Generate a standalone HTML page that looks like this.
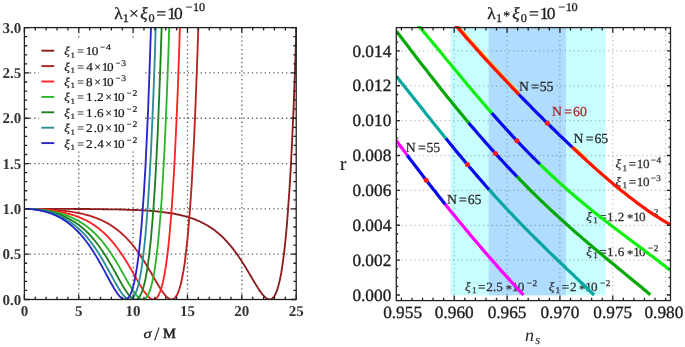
<!DOCTYPE html>
<html><head><meta charset="utf-8"><title>plot</title>
<style>html,body{margin:0;padding:0;background:#fff;font-family:"Liberation Serif",serif;}svg{display:block;will-change:transform}</style></head>
<body>
<svg width="685" height="347" viewBox="0 0 685 347" font-family="Liberation Serif, serif" text-rendering="geometricPrecision">
<rect width="685" height="347" fill="#fff"/>
<defs><clipPath id="cl"><rect x="24.40" y="27.60" width="272.50" height="271.90"/></clipPath>
<clipPath id="cr"><rect x="396.30" y="26.00" width="274.20" height="274.60"/></clipPath></defs>
<g stroke="#666" stroke-width="1.35" stroke-dasharray="1.35 2.92" fill="none">
<path d="M78.76 27.60 V299.50" stroke-dashoffset="4.2"/>
<path d="M133.12 27.60 V299.50" stroke-dashoffset="4.2"/>
<path d="M187.48 27.60 V299.50" stroke-dashoffset="4.2"/>
<path d="M241.84 27.60 V299.50" stroke-dashoffset="4.2"/>
<path d="M24.40 254.18 H296.20" stroke-dashoffset="3.12"/>
<path d="M24.40 208.87 H296.20" stroke-dashoffset="3.12"/>
<path d="M24.40 163.55 H296.20" stroke-dashoffset="3.12"/>
<path d="M24.40 118.23 H296.20" stroke-dashoffset="3.12"/>
<path d="M24.40 72.92 H296.20" stroke-dashoffset="3.12"/>
</g>
<g clip-path="url(#cl)" fill="none" stroke-width="1.85" stroke-linejoin="round">
<path d="M24.4 208.9L25.8 208.9L27.1 208.9L28.5 208.9L29.8 208.9L31.2 208.9L32.6 208.9L33.9 208.9L35.3 208.9L36.6 208.9L38.0 208.9L39.3 208.9L40.7 208.9L42.1 208.9L43.4 208.9L44.8 208.9L46.1 208.9L47.5 208.9L48.9 208.9L50.2 208.9L51.6 208.9L52.9 208.9L54.3 208.9L55.7 208.9L57.0 208.9L58.4 208.9L59.7 208.9L61.1 208.9L62.5 208.9L63.8 208.9L65.2 208.9L66.5 208.9L67.9 208.9L69.2 208.9L70.6 208.9L72.0 208.9L73.3 208.9L74.7 209.0L76.0 209.0L77.4 209.0L78.8 209.0L80.1 209.0L81.5 209.0L82.8 209.0L84.2 209.0L85.6 209.0L86.9 209.0L88.3 209.0L89.6 209.0L91.0 209.1L92.3 209.1L93.7 209.1L95.1 209.1L96.4 209.1L97.8 209.1L99.1 209.1L100.5 209.1L101.9 209.2L103.2 209.2L104.6 209.2L105.9 209.2L107.3 209.2L108.7 209.3L110.0 209.3L111.4 209.3L112.7 209.3L114.1 209.4L115.5 209.4L116.8 209.4L118.2 209.4L119.5 209.5L120.9 209.5L122.2 209.5L123.6 209.6L125.0 209.6L126.3 209.7L127.7 209.7L129.0 209.8L130.4 209.8L131.8 209.8L133.1 209.9L134.5 210.0L135.8 210.0L137.2 210.1L138.6 210.1L139.9 210.2L141.3 210.3L142.6 210.4L144.0 210.4L145.4 210.5L146.7 210.6L148.1 210.7L149.4 210.8L150.8 210.9L152.1 211.0L153.5 211.1L154.9 211.2L156.2 211.4L157.6 211.5L158.9 211.6L160.3 211.8L161.7 211.9L163.0 212.1L164.4 212.3L165.7 212.5L167.1 212.6L168.5 212.8L169.8 213.0L171.2 213.3L172.5 213.5L173.9 213.7L175.2 214.0L176.6 214.3L178.0 214.5L179.3 214.8L180.7 215.1L182.0 215.5L183.4 215.8L184.8 216.2L186.1 216.5L187.5 216.9L188.8 217.3L190.2 217.8L191.6 218.2L192.9 218.7L194.3 219.2L195.6 219.7L197.0 220.3L198.4 220.9L199.7 221.5L201.1 222.1L202.4 222.8L203.8 223.5L205.1 224.2L206.5 225.0L207.9 225.8L209.2 226.6L210.6 227.5L211.9 228.4L213.3 229.3L214.7 230.3L216.0 231.4L217.4 232.5L218.7 233.6L220.1 234.8L221.5 236.1L222.8 237.3L224.2 238.7L225.5 240.1L226.9 241.5L228.2 243.1L229.6 244.6L231.0 246.3L232.3 247.9L233.7 249.7L235.0 251.5L236.4 253.4L237.8 255.3L239.1 257.3L240.5 259.3L241.8 261.4L243.2 263.5L244.6 265.7L245.9 267.9L247.3 270.2L248.6 272.4L250.0 274.7L251.4 277.0L252.7 279.4L254.1 281.7L255.4 283.9L256.8 286.1L258.1 288.3L259.5 290.4L260.9 292.3L262.2 294.1L263.6 295.7L264.9 297.1L266.3 298.2L267.7 299.0L269.0 299.4L270.4 299.4L271.7 298.9L273.1 297.8L274.5 296.0L275.8 293.4L277.2 289.9L278.5 285.4L279.9 279.7L281.3 272.7L282.6 264.1L284.0 253.8L285.3 241.6L286.7 227.1L288.0 210.2L289.4 190.4L290.8 167.5L292.1 141.0L293.5 110.5L294.8 75.5L296.2 35.4L297.6 -10.2" stroke="#8a1c1c"/>
<path d="M24.4 208.9L25.8 208.9L27.1 208.9L28.5 208.9L29.8 208.9L31.2 208.9L32.6 208.9L33.9 209.0L35.3 209.0L36.6 209.0L38.0 209.1L39.3 209.1L40.7 209.1L42.1 209.2L43.4 209.3L44.8 209.3L46.1 209.4L47.5 209.4L48.9 209.5L50.2 209.6L51.6 209.7L52.9 209.8L54.3 209.9L55.7 210.0L57.0 210.1L58.4 210.2L59.7 210.3L61.1 210.5L62.5 210.6L63.8 210.8L65.2 210.9L66.5 211.1L67.9 211.3L69.2 211.4L70.6 211.6L72.0 211.8L73.3 212.1L74.7 212.3L76.0 212.5L77.4 212.8L78.8 213.0L80.1 213.3L81.5 213.6L82.8 213.9L84.2 214.3L85.6 214.6L86.9 215.0L88.3 215.3L89.6 215.7L91.0 216.2L92.3 216.6L93.7 217.1L95.1 217.5L96.4 218.1L97.8 218.6L99.1 219.2L100.5 219.7L101.9 220.4L103.2 221.0L104.6 221.7L105.9 222.4L107.3 223.1L108.7 223.9L110.0 224.7L111.4 225.6L112.7 226.5L114.1 227.4L115.5 228.4L116.8 229.4L118.2 230.5L119.5 231.6L120.9 232.8L122.2 234.0L123.6 235.2L125.0 236.6L126.3 237.9L127.7 239.4L129.0 240.9L130.4 242.4L131.8 244.0L133.1 245.7L134.5 247.4L135.8 249.2L137.2 251.0L138.6 252.9L139.9 254.9L141.3 256.9L142.6 258.9L144.0 261.1L145.4 263.2L146.7 265.5L148.1 267.7L149.4 270.0L150.8 272.3L152.1 274.7L153.5 277.0L154.9 279.4L156.2 281.7L157.6 284.0L158.9 286.2L160.3 288.4L161.7 290.5L163.0 292.4L164.4 294.2L165.7 295.8L167.1 297.2L168.5 298.3L169.8 299.1L171.2 299.5L172.5 299.4L173.9 298.8L175.2 297.6L176.6 295.6L178.0 292.9L179.3 289.2L180.7 284.5L182.0 278.5L183.4 271.2L184.8 262.3L186.1 251.5L187.5 238.8L188.8 223.8L190.2 206.2L191.6 185.7L192.9 162.0L194.3 134.5L195.6 103.0L197.0 66.8L198.4 25.4L199.7 -21.8" stroke="#b52222"/>
<path d="M24.4 208.9L25.8 208.9L27.1 208.9L28.5 208.9L29.8 208.9L31.2 209.0L32.6 209.0L33.9 209.1L35.3 209.1L36.6 209.2L38.0 209.3L39.3 209.3L40.7 209.4L42.1 209.5L43.4 209.6L44.8 209.8L46.1 209.9L47.5 210.0L48.9 210.2L50.2 210.3L51.6 210.5L52.9 210.7L54.3 210.9L55.7 211.1L57.0 211.3L58.4 211.5L59.7 211.8L61.1 212.1L62.5 212.3L63.8 212.6L65.2 212.9L66.5 213.3L67.9 213.6L69.2 214.0L70.6 214.4L72.0 214.8L73.3 215.2L74.7 215.6L76.0 216.1L77.4 216.6L78.8 217.1L80.1 217.7L81.5 218.2L82.8 218.9L84.2 219.5L85.6 220.1L86.9 220.8L88.3 221.6L89.6 222.3L91.0 223.1L92.3 224.0L93.7 224.9L95.1 225.8L96.4 226.8L97.8 227.8L99.1 228.8L100.5 229.9L101.9 231.1L103.2 232.3L104.6 233.5L105.9 234.8L107.3 236.2L108.7 237.6L110.0 239.1L111.4 240.6L112.7 242.2L114.1 243.9L115.5 245.6L116.8 247.3L118.2 249.2L119.5 251.1L120.9 253.0L122.2 255.0L123.6 257.1L125.0 259.2L126.3 261.4L127.7 263.6L129.0 265.9L130.4 268.2L131.8 270.6L133.1 272.9L134.5 275.3L135.8 277.7L137.2 280.1L138.6 282.4L139.9 284.7L141.3 287.0L142.6 289.2L144.0 291.2L145.4 293.1L146.7 294.9L148.1 296.4L149.4 297.7L150.8 298.7L152.1 299.3L153.5 299.5L154.9 299.2L156.2 298.3L157.6 296.8L158.9 294.5L160.3 291.3L161.7 287.1L163.0 281.8L164.4 275.2L165.7 267.1L167.1 257.2L168.5 245.5L169.8 231.6L171.2 215.3L172.5 196.2L173.9 174.0L175.2 148.3L176.6 118.7L178.0 84.7L179.3 45.8L180.7 1.3L182.0 -49.4" stroke="#ff2222"/>
<path d="M24.4 208.9L25.8 208.9L27.1 208.9L28.5 208.9L29.8 209.0L31.2 209.0L32.6 209.1L33.9 209.1L35.3 209.2L36.6 209.3L38.0 209.4L39.3 209.6L40.7 209.7L42.1 209.9L43.4 210.0L44.8 210.2L46.1 210.4L47.5 210.6L48.9 210.8L50.2 211.1L51.6 211.3L52.9 211.6L54.3 211.9L55.7 212.2L57.0 212.5L58.4 212.9L59.7 213.2L61.1 213.6L62.5 214.0L63.8 214.5L65.2 214.9L66.5 215.4L67.9 215.9L69.2 216.5L70.6 217.0L72.0 217.6L73.3 218.3L74.7 218.9L76.0 219.6L77.4 220.3L78.8 221.1L80.1 221.9L81.5 222.7L82.8 223.6L84.2 224.5L85.6 225.5L86.9 226.5L88.3 227.6L89.6 228.7L91.0 229.8L92.3 231.0L93.7 232.3L95.1 233.6L96.4 235.0L97.8 236.4L99.1 237.9L100.5 239.4L101.9 241.0L103.2 242.7L104.6 244.4L105.9 246.2L107.3 248.0L108.7 249.9L110.0 251.9L111.4 253.9L112.7 256.0L114.1 258.2L115.5 260.4L116.8 262.6L118.2 264.9L119.5 267.2L120.9 269.6L122.2 272.0L123.6 274.4L125.0 276.9L126.3 279.3L127.7 281.7L129.0 284.0L130.4 286.3L131.8 288.5L133.1 290.7L134.5 292.6L135.8 294.5L137.2 296.1L138.6 297.4L139.9 298.5L141.3 299.2L142.6 299.5L144.0 299.3L145.4 298.5L146.7 297.1L148.1 295.0L149.4 291.9L150.8 287.9L152.1 282.8L153.5 276.3L154.9 268.4L156.2 258.8L157.6 247.3L158.9 233.7L160.3 217.6L161.7 198.8L163.0 177.0L164.4 151.7L165.7 122.5L167.1 88.9L168.5 50.4L169.8 6.5L171.2 -43.7" stroke="#2bb52b"/>
<path d="M24.4 208.9L25.8 208.9L27.1 208.9L28.5 208.9L29.8 209.0L31.2 209.1L32.6 209.1L33.9 209.2L35.3 209.4L36.6 209.5L38.0 209.6L39.3 209.8L40.7 210.0L42.1 210.2L43.4 210.4L44.8 210.6L46.1 210.9L47.5 211.2L48.9 211.5L50.2 211.8L51.6 212.1L52.9 212.5L54.3 212.9L55.7 213.3L57.0 213.7L58.4 214.2L59.7 214.7L61.1 215.2L62.5 215.7L63.8 216.3L65.2 216.9L66.5 217.6L67.9 218.2L69.2 218.9L70.6 219.7L72.0 220.5L73.3 221.3L74.7 222.1L76.0 223.0L77.4 224.0L78.8 225.0L80.1 226.0L81.5 227.1L82.8 228.3L84.2 229.4L85.6 230.7L86.9 232.0L88.3 233.3L89.6 234.7L91.0 236.2L92.3 237.7L93.7 239.3L95.1 241.0L96.4 242.7L97.8 244.5L99.1 246.3L100.5 248.2L101.9 250.2L103.2 252.2L104.6 254.3L105.9 256.4L107.3 258.6L108.7 260.9L110.0 263.2L111.4 265.5L112.7 267.9L114.1 270.4L115.5 272.8L116.8 275.3L118.2 277.7L119.5 280.2L120.9 282.6L122.2 284.9L123.6 287.2L125.0 289.4L126.3 291.5L127.7 293.5L129.0 295.2L130.4 296.7L131.8 298.0L133.1 298.9L134.5 299.4L135.8 299.5L137.2 299.0L138.6 297.9L139.9 296.1L141.3 293.5L142.6 290.0L144.0 285.3L145.4 279.5L146.7 272.2L148.1 263.4L149.4 252.7L150.8 240.1L152.1 225.1L153.5 207.5L154.9 186.9L156.2 163.1L157.6 135.5L158.9 103.7L160.3 67.3L161.7 25.6L163.0 -22.0" stroke="#1f7f1f"/>
<path d="M24.4 208.9L25.8 208.9L27.1 208.9L28.5 209.0L29.8 209.0L31.2 209.1L32.6 209.2L33.9 209.3L35.3 209.5L36.6 209.6L38.0 209.8L39.3 210.0L40.7 210.3L42.1 210.5L43.4 210.8L44.8 211.1L46.1 211.4L47.5 211.7L48.9 212.1L50.2 212.5L51.6 212.9L52.9 213.4L54.3 213.9L55.7 214.4L57.0 214.9L58.4 215.5L59.7 216.1L61.1 216.7L62.5 217.4L63.8 218.1L65.2 218.9L66.5 219.7L67.9 220.5L69.2 221.4L70.6 222.3L72.0 223.2L73.3 224.2L74.7 225.3L76.0 226.4L77.4 227.6L78.8 228.8L80.1 230.0L81.5 231.4L82.8 232.7L84.2 234.2L85.6 235.7L86.9 237.2L88.3 238.8L89.6 240.5L91.0 242.3L92.3 244.1L93.7 246.0L95.1 247.9L96.4 249.9L97.8 252.0L99.1 254.1L100.5 256.3L101.9 258.5L103.2 260.8L104.6 263.2L105.9 265.6L107.3 268.0L108.7 270.5L110.0 273.0L111.4 275.5L112.7 277.9L114.1 280.4L115.5 282.9L116.8 285.2L118.2 287.6L119.5 289.8L120.9 291.9L122.2 293.8L123.6 295.5L125.0 297.0L126.3 298.2L127.7 299.0L129.0 299.5L130.4 299.4L131.8 298.8L133.1 297.6L134.5 295.6L135.8 292.7L137.2 288.9L138.6 283.9L139.9 277.7L141.3 270.0L142.6 260.6L144.0 249.3L145.4 236.0L146.7 220.2L148.1 201.7L149.4 180.1L150.8 155.1L152.1 126.2L153.5 92.9L154.9 54.8L156.2 11.2L157.6 -38.6" stroke="#2a8c94"/>
<path d="M24.4 208.9L25.8 208.9L27.1 208.9L28.5 209.0L29.8 209.0L31.2 209.2L32.6 209.3L33.9 209.4L35.3 209.6L36.6 209.8L38.0 210.0L39.3 210.3L40.7 210.5L42.1 210.8L43.4 211.2L44.8 211.5L46.1 211.9L47.5 212.3L48.9 212.8L50.2 213.2L51.6 213.7L52.9 214.3L54.3 214.8L55.7 215.5L57.0 216.1L58.4 216.8L59.7 217.5L61.1 218.3L62.5 219.1L63.8 219.9L65.2 220.8L66.5 221.7L67.9 222.7L69.2 223.7L70.6 224.8L72.0 226.0L73.3 227.1L74.7 228.4L76.0 229.7L77.4 231.0L78.8 232.5L80.1 233.9L81.5 235.5L82.8 237.1L84.2 238.7L85.6 240.5L86.9 242.3L88.3 244.1L89.6 246.0L91.0 248.0L92.3 250.1L93.7 252.2L95.1 254.4L96.4 256.6L97.8 258.9L99.1 261.3L100.5 263.7L101.9 266.1L103.2 268.6L104.6 271.1L105.9 273.6L107.3 276.2L108.7 278.7L110.0 281.2L111.4 283.7L112.7 286.0L114.1 288.4L115.5 290.6L116.8 292.6L118.2 294.5L119.5 296.1L120.9 297.5L122.2 298.6L123.6 299.3L125.0 299.5L126.3 299.2L127.7 298.3L129.0 296.8L130.4 294.4L131.8 291.1L133.1 286.7L134.5 281.2L135.8 274.2L137.2 265.7L138.6 255.4L139.9 243.1L141.3 228.5L142.6 211.3L144.0 191.3L145.4 167.9L146.7 140.9L148.1 109.8L149.4 74.0L150.8 33.0L152.1 -13.9" stroke="#2626c8"/>
</g>
<rect x="39" y="38" width="104" height="113" fill="#fff"/>
<path d="M41.4 50.70 H54.2" stroke="#8a1c1c" stroke-width="1.9"/>
<text transform="translate(64.15 55.20) scale(1.100 1)" font-size="12.00" fill="#181818" font-style="italic" stroke="#181818" stroke-width="0.20">ξ</text>
<text transform="translate(70.51 57.60) scale(1.100 1)" font-size="8.30" fill="#181818" stroke="#181818" stroke-width="0.20">1</text>
<text transform="translate(77.32 55.20) scale(0.980 1)" font-size="12.00" fill="#181818" stroke="#181818" stroke-width="0.20">=</text>
<text transform="translate(85.75 55.20) scale(1.100 1)" font-size="12.00" fill="#181818" stroke="#181818" stroke-width="0.20">1</text>
<text transform="translate(91.70 55.20) scale(1.100 1)" font-size="12.00" fill="#181818" stroke="#181818" stroke-width="0.20">0</text>
<text transform="translate(100.19 50.20) scale(0.980 1)" font-size="8.50" fill="#181818" stroke="#181818" stroke-width="0.20">−</text>
<text transform="translate(106.02 50.20) scale(1.100 1)" font-size="8.80" fill="#181818" stroke="#181818" stroke-width="0.20">4</text>
<path d="M41.4 66.10 H54.2" stroke="#b52222" stroke-width="1.9"/>
<text transform="translate(64.15 70.60) scale(1.100 1)" font-size="12.00" fill="#181818" font-style="italic" stroke="#181818" stroke-width="0.20">ξ</text>
<text transform="translate(70.51 73.00) scale(1.100 1)" font-size="8.30" fill="#181818" stroke="#181818" stroke-width="0.20">1</text>
<text transform="translate(77.32 70.60) scale(0.980 1)" font-size="12.00" fill="#181818" stroke="#181818" stroke-width="0.20">=</text>
<text transform="translate(86.35 70.60) scale(1.100 1)" font-size="12.00" fill="#181818" stroke="#181818" stroke-width="0.20">4</text>
<text transform="translate(94.27 70.60) scale(0.980 1)" font-size="12.00" fill="#181818" stroke="#181818" stroke-width="0.20">×</text>
<text transform="translate(101.65 70.60) scale(1.100 1)" font-size="12.00" fill="#181818" stroke="#181818" stroke-width="0.20">1</text>
<text transform="translate(106.90 70.60) scale(1.100 1)" font-size="12.00" fill="#181818" stroke="#181818" stroke-width="0.20">0</text>
<text transform="translate(115.79 65.60) scale(0.980 1)" font-size="8.50" fill="#181818" stroke="#181818" stroke-width="0.20">−</text>
<text transform="translate(121.35 65.60) scale(1.100 1)" font-size="8.80" fill="#181818" stroke="#181818" stroke-width="0.20">3</text>
<path d="M41.4 81.50 H54.2" stroke="#ff2222" stroke-width="1.9"/>
<text transform="translate(64.15 86.00) scale(1.100 1)" font-size="12.00" fill="#181818" font-style="italic" stroke="#181818" stroke-width="0.20">ξ</text>
<text transform="translate(70.51 88.40) scale(1.100 1)" font-size="8.30" fill="#181818" stroke="#181818" stroke-width="0.20">1</text>
<text transform="translate(77.32 86.00) scale(0.980 1)" font-size="12.00" fill="#181818" stroke="#181818" stroke-width="0.20">=</text>
<text transform="translate(86.10 86.00) scale(1.100 1)" font-size="12.00" fill="#181818" stroke="#181818" stroke-width="0.20">8</text>
<text transform="translate(94.27 86.00) scale(0.980 1)" font-size="12.00" fill="#181818" stroke="#181818" stroke-width="0.20">×</text>
<text transform="translate(101.65 86.00) scale(1.100 1)" font-size="12.00" fill="#181818" stroke="#181818" stroke-width="0.20">1</text>
<text transform="translate(106.90 86.00) scale(1.100 1)" font-size="12.00" fill="#181818" stroke="#181818" stroke-width="0.20">0</text>
<text transform="translate(115.79 81.00) scale(0.980 1)" font-size="8.50" fill="#181818" stroke="#181818" stroke-width="0.20">−</text>
<text transform="translate(121.35 81.00) scale(1.100 1)" font-size="8.80" fill="#181818" stroke="#181818" stroke-width="0.20">3</text>
<path d="M41.4 96.90 H54.2" stroke="#2bb52b" stroke-width="1.9"/>
<text transform="translate(64.15 101.40) scale(1.100 1)" font-size="12.00" fill="#181818" font-style="italic" stroke="#181818" stroke-width="0.20">ξ</text>
<text transform="translate(70.51 103.80) scale(1.100 1)" font-size="8.30" fill="#181818" stroke="#181818" stroke-width="0.20">1</text>
<text transform="translate(77.32 101.40) scale(0.980 1)" font-size="12.00" fill="#181818" stroke="#181818" stroke-width="0.20">=</text>
<text transform="translate(86.05 101.40) scale(1.100 1)" font-size="12.00" fill="#181818" stroke="#181818" stroke-width="0.20">1</text>
<text transform="translate(93.64 101.40) scale(1.100 1)" font-size="12.00" fill="#181818" stroke="#181818" stroke-width="0.20">.</text>
<text transform="translate(97.03 101.40) scale(1.100 1)" font-size="12.00" fill="#181818" stroke="#181818" stroke-width="0.20">2</text>
<text transform="translate(105.27 101.40) scale(0.980 1)" font-size="12.00" fill="#181818" stroke="#181818" stroke-width="0.20">×</text>
<text transform="translate(112.65 101.40) scale(1.100 1)" font-size="12.00" fill="#181818" stroke="#181818" stroke-width="0.20">1</text>
<text transform="translate(117.90 101.40) scale(1.100 1)" font-size="12.00" fill="#181818" stroke="#181818" stroke-width="0.20">0</text>
<text transform="translate(126.79 96.40) scale(0.980 1)" font-size="8.50" fill="#181818" stroke="#181818" stroke-width="0.20">−</text>
<text transform="translate(132.38 96.40) scale(1.100 1)" font-size="8.80" fill="#181818" stroke="#181818" stroke-width="0.20">2</text>
<path d="M41.4 112.30 H54.2" stroke="#1f7f1f" stroke-width="1.9"/>
<text transform="translate(64.15 116.80) scale(1.100 1)" font-size="12.00" fill="#181818" font-style="italic" stroke="#181818" stroke-width="0.20">ξ</text>
<text transform="translate(70.51 119.20) scale(1.100 1)" font-size="8.30" fill="#181818" stroke="#181818" stroke-width="0.20">1</text>
<text transform="translate(77.32 116.80) scale(0.980 1)" font-size="12.00" fill="#181818" stroke="#181818" stroke-width="0.20">=</text>
<text transform="translate(86.05 116.80) scale(1.100 1)" font-size="12.00" fill="#181818" stroke="#181818" stroke-width="0.20">1</text>
<text transform="translate(93.64 116.80) scale(1.100 1)" font-size="12.00" fill="#181818" stroke="#181818" stroke-width="0.20">.</text>
<text transform="translate(97.05 116.80) scale(1.100 1)" font-size="12.00" fill="#181818" stroke="#181818" stroke-width="0.20">6</text>
<text transform="translate(105.27 116.80) scale(0.980 1)" font-size="12.00" fill="#181818" stroke="#181818" stroke-width="0.20">×</text>
<text transform="translate(112.65 116.80) scale(1.100 1)" font-size="12.00" fill="#181818" stroke="#181818" stroke-width="0.20">1</text>
<text transform="translate(117.90 116.80) scale(1.100 1)" font-size="12.00" fill="#181818" stroke="#181818" stroke-width="0.20">0</text>
<text transform="translate(126.79 111.80) scale(0.980 1)" font-size="8.50" fill="#181818" stroke="#181818" stroke-width="0.20">−</text>
<text transform="translate(132.38 111.80) scale(1.100 1)" font-size="8.80" fill="#181818" stroke="#181818" stroke-width="0.20">2</text>
<path d="M41.4 127.70 H54.2" stroke="#2a8c94" stroke-width="1.9"/>
<text transform="translate(64.15 132.20) scale(1.100 1)" font-size="12.00" fill="#181818" font-style="italic" stroke="#181818" stroke-width="0.20">ξ</text>
<text transform="translate(70.51 134.60) scale(1.100 1)" font-size="8.30" fill="#181818" stroke="#181818" stroke-width="0.20">1</text>
<text transform="translate(77.32 132.20) scale(0.980 1)" font-size="12.00" fill="#181818" stroke="#181818" stroke-width="0.20">=</text>
<text transform="translate(86.03 132.20) scale(1.100 1)" font-size="12.00" fill="#181818" stroke="#181818" stroke-width="0.20">2</text>
<text transform="translate(93.64 132.20) scale(1.100 1)" font-size="12.00" fill="#181818" stroke="#181818" stroke-width="0.20">.</text>
<text transform="translate(97.10 132.20) scale(1.100 1)" font-size="12.00" fill="#181818" stroke="#181818" stroke-width="0.20">0</text>
<text transform="translate(105.27 132.20) scale(0.980 1)" font-size="12.00" fill="#181818" stroke="#181818" stroke-width="0.20">×</text>
<text transform="translate(112.65 132.20) scale(1.100 1)" font-size="12.00" fill="#181818" stroke="#181818" stroke-width="0.20">1</text>
<text transform="translate(117.90 132.20) scale(1.100 1)" font-size="12.00" fill="#181818" stroke="#181818" stroke-width="0.20">0</text>
<text transform="translate(126.79 127.20) scale(0.980 1)" font-size="8.50" fill="#181818" stroke="#181818" stroke-width="0.20">−</text>
<text transform="translate(132.38 127.20) scale(1.100 1)" font-size="8.80" fill="#181818" stroke="#181818" stroke-width="0.20">2</text>
<path d="M41.4 143.10 H54.2" stroke="#2626c8" stroke-width="1.9"/>
<text transform="translate(64.15 147.60) scale(1.100 1)" font-size="12.00" fill="#181818" font-style="italic" stroke="#181818" stroke-width="0.20">ξ</text>
<text transform="translate(70.51 150.00) scale(1.100 1)" font-size="8.30" fill="#181818" stroke="#181818" stroke-width="0.20">1</text>
<text transform="translate(77.32 147.60) scale(0.980 1)" font-size="12.00" fill="#181818" stroke="#181818" stroke-width="0.20">=</text>
<text transform="translate(86.03 147.60) scale(1.100 1)" font-size="12.00" fill="#181818" stroke="#181818" stroke-width="0.20">2</text>
<text transform="translate(93.64 147.60) scale(1.100 1)" font-size="12.00" fill="#181818" stroke="#181818" stroke-width="0.20">.</text>
<text transform="translate(97.35 147.60) scale(1.100 1)" font-size="12.00" fill="#181818" stroke="#181818" stroke-width="0.20">4</text>
<text transform="translate(105.27 147.60) scale(0.980 1)" font-size="12.00" fill="#181818" stroke="#181818" stroke-width="0.20">×</text>
<text transform="translate(112.65 147.60) scale(1.100 1)" font-size="12.00" fill="#181818" stroke="#181818" stroke-width="0.20">1</text>
<text transform="translate(117.90 147.60) scale(1.100 1)" font-size="12.00" fill="#181818" stroke="#181818" stroke-width="0.20">0</text>
<text transform="translate(126.79 142.60) scale(0.980 1)" font-size="8.50" fill="#181818" stroke="#181818" stroke-width="0.20">−</text>
<text transform="translate(132.38 142.60) scale(1.100 1)" font-size="8.80" fill="#181818" stroke="#181818" stroke-width="0.20">2</text>
<g stroke="#222" stroke-width="1.3" fill="none">
<rect x="24.40" y="27.60" width="271.80" height="271.90"/>
<path d="M24.40 299.50v-5.00M24.40 27.60v5.00M35.27 299.50v-2.80M35.27 27.60v2.80M46.14 299.50v-2.80M46.14 27.60v2.80M57.02 299.50v-2.80M57.02 27.60v2.80M67.89 299.50v-2.80M67.89 27.60v2.80M78.76 299.50v-5.00M78.76 27.60v5.00M89.63 299.50v-2.80M89.63 27.60v2.80M100.50 299.50v-2.80M100.50 27.60v2.80M111.38 299.50v-2.80M111.38 27.60v2.80M122.25 299.50v-2.80M122.25 27.60v2.80M133.12 299.50v-5.00M133.12 27.60v5.00M143.99 299.50v-2.80M143.99 27.60v2.80M154.86 299.50v-2.80M154.86 27.60v2.80M165.74 299.50v-2.80M165.74 27.60v2.80M176.61 299.50v-2.80M176.61 27.60v2.80M187.48 299.50v-5.00M187.48 27.60v5.00M198.35 299.50v-2.80M198.35 27.60v2.80M209.22 299.50v-2.80M209.22 27.60v2.80M220.10 299.50v-2.80M220.10 27.60v2.80M230.97 299.50v-2.80M230.97 27.60v2.80M241.84 299.50v-5.00M241.84 27.60v5.00M252.71 299.50v-2.80M252.71 27.60v2.80M263.58 299.50v-2.80M263.58 27.60v2.80M274.46 299.50v-2.80M274.46 27.60v2.80M285.33 299.50v-2.80M285.33 27.60v2.80M296.20 299.50v-5.00M296.20 27.60v5.00M24.40 299.50h5.00M296.20 299.50h-5.00M24.40 290.44h2.80M296.20 290.44h-2.80M24.40 281.37h2.80M296.20 281.37h-2.80M24.40 272.31h2.80M296.20 272.31h-2.80M24.40 263.25h2.80M296.20 263.25h-2.80M24.40 254.18h5.00M296.20 254.18h-5.00M24.40 245.12h2.80M296.20 245.12h-2.80M24.40 236.06h2.80M296.20 236.06h-2.80M24.40 226.99h2.80M296.20 226.99h-2.80M24.40 217.93h2.80M296.20 217.93h-2.80M24.40 208.87h5.00M296.20 208.87h-5.00M24.40 199.80h2.80M296.20 199.80h-2.80M24.40 190.74h2.80M296.20 190.74h-2.80M24.40 181.68h2.80M296.20 181.68h-2.80M24.40 172.61h2.80M296.20 172.61h-2.80M24.40 163.55h5.00M296.20 163.55h-5.00M24.40 154.49h2.80M296.20 154.49h-2.80M24.40 145.42h2.80M296.20 145.42h-2.80M24.40 136.36h2.80M296.20 136.36h-2.80M24.40 127.30h2.80M296.20 127.30h-2.80M24.40 118.23h5.00M296.20 118.23h-5.00M24.40 109.17h2.80M296.20 109.17h-2.80M24.40 100.11h2.80M296.20 100.11h-2.80M24.40 91.04h2.80M296.20 91.04h-2.80M24.40 81.98h2.80M296.20 81.98h-2.80M24.40 72.92h5.00M296.20 72.92h-5.00M24.40 63.85h2.80M296.20 63.85h-2.80M24.40 54.79h2.80M296.20 54.79h-2.80M24.40 45.73h2.80M296.20 45.73h-2.80M24.40 36.66h2.80M296.20 36.66h-2.80M24.40 27.60h5.00M296.20 27.60h-5.00"/>
</g>
<g font-size="15" font-weight="bold" fill="#333">
<text x="24.40" y="315.6" text-anchor="middle">0</text>
<text x="78.76" y="315.6" text-anchor="middle">5</text>
<text x="133.12" y="315.6" text-anchor="middle">10</text>
<text x="187.48" y="315.6" text-anchor="middle">15</text>
<text x="241.84" y="315.6" text-anchor="middle">20</text>
<text x="296.20" y="315.6" text-anchor="middle">25</text>
<text x="21.3" y="304.50" text-anchor="end">0.0</text>
<text x="21.3" y="259.18" text-anchor="end">0.5</text>
<text x="21.3" y="213.87" text-anchor="end">1.0</text>
<text x="21.3" y="168.55" text-anchor="end">1.5</text>
<text x="21.3" y="123.23" text-anchor="end">2.0</text>
<text x="21.3" y="77.92" text-anchor="end">2.5</text>
<text x="21.3" y="32.60" text-anchor="end">3.0</text>
</g>
<text transform="translate(143.53 337.70) scale(1.200 1)" font-size="13.50" fill="#222" font-style="italic" stroke="#222" stroke-width="0.30">σ</text>
<text x="154.30" y="340.20" font-size="18.50" fill="#222" stroke="#222" stroke-width="0.20">/</text>
<text transform="translate(163.00 337.70) scale(1.030 1)" font-size="14.00" fill="#222" stroke="#222" stroke-width="0.50">M</text>
<text transform="translate(114.25 18.80) scale(1.040 1)" font-size="16.80" fill="#1e1e1e" stroke="#1e1e1e" stroke-width="0.30">λ</text>
<text transform="translate(122.83 21.90) scale(1.040 1)" font-size="11.80" fill="#1e1e1e" stroke="#1e1e1e" stroke-width="0.30">1</text>
<text transform="translate(129.02 18.80) scale(1.040 1)" font-size="16.80" fill="#1e1e1e" stroke="#1e1e1e" stroke-width="0.30">×</text>
<text transform="translate(140.31 18.80) scale(1.040 1)" font-size="16.80" fill="#1e1e1e" font-style="italic" stroke="#1e1e1e" stroke-width="0.30">ξ</text>
<text transform="translate(148.43 21.90) scale(1.040 1)" font-size="11.80" fill="#1e1e1e" stroke="#1e1e1e" stroke-width="0.30">0</text>
<text transform="translate(156.34 18.80) scale(1.040 1)" font-size="16.80" fill="#1e1e1e" stroke="#1e1e1e" stroke-width="0.30">=</text>
<text transform="translate(167.18 18.80) scale(1.040 1)" font-size="16.80" fill="#1e1e1e" stroke="#1e1e1e" stroke-width="0.30">1</text>
<text transform="translate(174.04 18.80) scale(1.040 1)" font-size="16.80" fill="#1e1e1e" stroke="#1e1e1e" stroke-width="0.30">0</text>
<text transform="translate(185.60 10.60) scale(1.040 1)" font-size="11.80" fill="#1e1e1e" stroke="#1e1e1e" stroke-width="0.30">−</text>
<text transform="translate(193.03 10.60) scale(1.040 1)" font-size="11.80" fill="#1e1e1e" stroke="#1e1e1e" stroke-width="0.30">1</text>
<text transform="translate(198.93 10.60) scale(1.040 1)" font-size="11.80" fill="#1e1e1e" stroke="#1e1e1e" stroke-width="0.30">0</text>
<rect x="450.50" y="27.60" width="155.10" height="267.70" fill="#c8feff"/>
<rect x="488.70" y="27.60" width="77.20" height="267.70" fill="#b0dcfe"/>
<g stroke="#000" stroke-opacity="0.25" stroke-width="1.25" stroke-dasharray="1.25 3.05" fill="none">
<path d="M454.24 27.60 V300.60" stroke-dashoffset="0.5"/>
<path d="M507.08 27.60 V300.60" stroke-dashoffset="0.5"/>
<path d="M559.92 27.60 V300.60" stroke-dashoffset="0.5"/>
<path d="M612.76 27.60 V300.60" stroke-dashoffset="0.5"/>
<path d="M665.60 27.60 V300.60" stroke-dashoffset="0.5"/>
<path d="M396.30 260.13 H670.50" stroke-dashoffset="3.5"/>
<path d="M396.30 225.26 H670.50" stroke-dashoffset="3.5"/>
<path d="M396.30 190.39 H670.50" stroke-dashoffset="3.5"/>
<path d="M396.30 155.51 H670.50" stroke-dashoffset="3.5"/>
<path d="M396.30 120.64 H670.50" stroke-dashoffset="3.5"/>
<path d="M396.30 85.77 H670.50" stroke-dashoffset="3.5"/>
<path d="M396.30 50.90 H670.50" stroke-dashoffset="3.5"/>
</g>
<text x="519.01" y="90.60" font-size="13.80" fill="#262626" stroke="#262626" stroke-width="0.22">N</text>
<text x="531.22" y="90.60" font-size="13.80" fill="#262626" stroke="#262626" stroke-width="0.22">=</text>
<text x="539.70" y="90.60" font-size="13.80" fill="#262626" stroke="#262626" stroke-width="0.22">5</text>
<text x="546.60" y="90.60" font-size="13.80" fill="#262626" stroke="#262626" stroke-width="0.22">5</text>
<text x="552.01" y="116.00" font-size="13.80" fill="#a82222" stroke="#a82222" stroke-width="0.22">N</text>
<text x="564.22" y="116.00" font-size="13.80" fill="#a82222" stroke="#a82222" stroke-width="0.22">=</text>
<text x="572.92" y="116.00" font-size="13.80" fill="#a82222" stroke="#a82222" stroke-width="0.22">6</text>
<text x="579.88" y="116.00" font-size="13.80" fill="#a82222" stroke="#a82222" stroke-width="0.22">0</text>
<text x="573.61" y="143.00" font-size="13.80" fill="#262626" stroke="#262626" stroke-width="0.22">N</text>
<text x="585.82" y="143.00" font-size="13.80" fill="#262626" stroke="#262626" stroke-width="0.22">=</text>
<text x="594.52" y="143.00" font-size="13.80" fill="#262626" stroke="#262626" stroke-width="0.22">6</text>
<text x="601.20" y="143.00" font-size="13.80" fill="#262626" stroke="#262626" stroke-width="0.22">5</text>
<text x="405.71" y="151.60" font-size="13.80" fill="#262626" stroke="#262626" stroke-width="0.22">N</text>
<text x="417.92" y="151.60" font-size="13.80" fill="#262626" stroke="#262626" stroke-width="0.22">=</text>
<text x="426.40" y="151.60" font-size="13.80" fill="#262626" stroke="#262626" stroke-width="0.22">5</text>
<text x="433.30" y="151.60" font-size="13.80" fill="#262626" stroke="#262626" stroke-width="0.22">5</text>
<text x="446.91" y="203.50" font-size="13.80" fill="#262626" stroke="#262626" stroke-width="0.22">N</text>
<text x="459.12" y="203.50" font-size="13.80" fill="#262626" stroke="#262626" stroke-width="0.22">=</text>
<text x="467.82" y="203.50" font-size="13.80" fill="#262626" stroke="#262626" stroke-width="0.22">6</text>
<text x="474.50" y="203.50" font-size="13.80" fill="#262626" stroke="#262626" stroke-width="0.22">5</text>
<text transform="translate(615.55 168.40) scale(1.050 1)" font-size="12.50" fill="#303030" font-style="italic" stroke="#303030" stroke-width="0.25">ξ</text>
<text transform="translate(622.50 170.70) scale(1.050 1)" font-size="8.80" fill="#303030" stroke="#303030" stroke-width="0.25">1</text>
<text transform="translate(628.66 168.40) scale(1.050 1)" font-size="12.50" fill="#303030" stroke="#303030" stroke-width="0.25">=</text>
<text transform="translate(636.86 168.40) scale(1.050 1)" font-size="12.50" fill="#303030" stroke="#303030" stroke-width="0.25">1</text>
<text transform="translate(642.90 168.40) scale(1.050 1)" font-size="12.50" fill="#303030" stroke="#303030" stroke-width="0.25">0</text>
<text transform="translate(650.75 163.20) scale(1.050 1)" font-size="8.80" fill="#303030" stroke="#303030" stroke-width="0.25">−</text>
<text transform="translate(656.62 163.20) scale(1.050 1)" font-size="8.80" fill="#303030" stroke="#303030" stroke-width="0.25">4</text>
<text transform="translate(615.55 185.80) scale(1.050 1)" font-size="12.50" fill="#303030" font-style="italic" stroke="#303030" stroke-width="0.25">ξ</text>
<text transform="translate(622.50 188.10) scale(1.050 1)" font-size="8.80" fill="#303030" stroke="#303030" stroke-width="0.25">1</text>
<text transform="translate(628.66 185.80) scale(1.050 1)" font-size="12.50" fill="#303030" stroke="#303030" stroke-width="0.25">=</text>
<text transform="translate(636.86 185.80) scale(1.050 1)" font-size="12.50" fill="#303030" stroke="#303030" stroke-width="0.25">1</text>
<text transform="translate(642.90 185.80) scale(1.050 1)" font-size="12.50" fill="#303030" stroke="#303030" stroke-width="0.25">0</text>
<text transform="translate(650.75 180.60) scale(1.050 1)" font-size="8.80" fill="#303030" stroke="#303030" stroke-width="0.25">−</text>
<text transform="translate(656.37 180.60) scale(1.050 1)" font-size="8.80" fill="#303030" stroke="#303030" stroke-width="0.25">3</text>
<text transform="translate(586.25 220.50) scale(1.050 1)" font-size="12.50" fill="#303030" font-style="italic" stroke="#303030" stroke-width="0.25">ξ</text>
<text transform="translate(593.20 222.80) scale(1.050 1)" font-size="8.80" fill="#303030" stroke="#303030" stroke-width="0.25">1</text>
<text transform="translate(599.36 220.50) scale(1.050 1)" font-size="12.50" fill="#303030" stroke="#303030" stroke-width="0.25">=</text>
<text transform="translate(606.96 220.50) scale(1.050 1)" font-size="12.50" fill="#303030" stroke="#303030" stroke-width="0.25">1</text>
<text transform="translate(614.25 220.50) scale(1.050 1)" font-size="12.50" fill="#303030" stroke="#303030" stroke-width="0.25">.</text>
<text transform="translate(617.74 220.50) scale(1.050 1)" font-size="12.50" fill="#303030" stroke="#303030" stroke-width="0.25">2</text>
<text transform="translate(627.10 222.40) scale(1.050 1)" font-size="12.00" fill="#303030" stroke="#303030" stroke-width="0.25">*</text>
<text transform="translate(633.16 220.50) scale(1.050 1)" font-size="12.50" fill="#303030" stroke="#303030" stroke-width="0.25">1</text>
<text transform="translate(639.00 220.50) scale(1.050 1)" font-size="12.50" fill="#303030" stroke="#303030" stroke-width="0.25">0</text>
<text transform="translate(648.05 215.30) scale(1.050 1)" font-size="8.80" fill="#303030" stroke="#303030" stroke-width="0.25">−</text>
<text transform="translate(653.70 215.30) scale(1.050 1)" font-size="8.80" fill="#303030" stroke="#303030" stroke-width="0.25">2</text>
<text transform="translate(586.25 256.00) scale(1.050 1)" font-size="12.50" fill="#303030" font-style="italic" stroke="#303030" stroke-width="0.25">ξ</text>
<text transform="translate(593.20 258.30) scale(1.050 1)" font-size="8.80" fill="#303030" stroke="#303030" stroke-width="0.25">1</text>
<text transform="translate(599.36 256.00) scale(1.050 1)" font-size="12.50" fill="#303030" stroke="#303030" stroke-width="0.25">=</text>
<text transform="translate(606.96 256.00) scale(1.050 1)" font-size="12.50" fill="#303030" stroke="#303030" stroke-width="0.25">1</text>
<text transform="translate(614.25 256.00) scale(1.050 1)" font-size="12.50" fill="#303030" stroke="#303030" stroke-width="0.25">.</text>
<text transform="translate(617.75 256.00) scale(1.050 1)" font-size="12.50" fill="#303030" stroke="#303030" stroke-width="0.25">6</text>
<text transform="translate(627.10 257.90) scale(1.050 1)" font-size="12.00" fill="#303030" stroke="#303030" stroke-width="0.25">*</text>
<text transform="translate(633.16 256.00) scale(1.050 1)" font-size="12.50" fill="#303030" stroke="#303030" stroke-width="0.25">1</text>
<text transform="translate(639.00 256.00) scale(1.050 1)" font-size="12.50" fill="#303030" stroke="#303030" stroke-width="0.25">0</text>
<text transform="translate(648.05 250.80) scale(1.050 1)" font-size="8.80" fill="#303030" stroke="#303030" stroke-width="0.25">−</text>
<text transform="translate(653.70 250.80) scale(1.050 1)" font-size="8.80" fill="#303030" stroke="#303030" stroke-width="0.25">2</text>
<text transform="translate(548.65 291.00) scale(1.050 1)" font-size="12.50" fill="#303030" font-style="italic" stroke="#303030" stroke-width="0.25">ξ</text>
<text transform="translate(555.60 293.30) scale(1.050 1)" font-size="8.80" fill="#303030" stroke="#303030" stroke-width="0.25">1</text>
<text transform="translate(561.76 291.00) scale(1.050 1)" font-size="12.50" fill="#303030" stroke="#303030" stroke-width="0.25">=</text>
<text transform="translate(569.94 291.00) scale(1.050 1)" font-size="12.50" fill="#303030" stroke="#303030" stroke-width="0.25">2</text>
<text transform="translate(579.10 292.90) scale(1.050 1)" font-size="12.00" fill="#303030" stroke="#303030" stroke-width="0.25">*</text>
<text transform="translate(585.16 291.00) scale(1.050 1)" font-size="12.50" fill="#303030" stroke="#303030" stroke-width="0.25">1</text>
<text transform="translate(591.00 291.00) scale(1.050 1)" font-size="12.50" fill="#303030" stroke="#303030" stroke-width="0.25">0</text>
<text transform="translate(600.05 285.80) scale(1.050 1)" font-size="8.80" fill="#303030" stroke="#303030" stroke-width="0.25">−</text>
<text transform="translate(605.70 285.80) scale(1.050 1)" font-size="8.80" fill="#303030" stroke="#303030" stroke-width="0.25">2</text>
<text transform="translate(464.95 291.00) scale(1.050 1)" font-size="12.50" fill="#303030" font-style="italic" stroke="#303030" stroke-width="0.25">ξ</text>
<text transform="translate(471.90 293.30) scale(1.050 1)" font-size="8.80" fill="#303030" stroke="#303030" stroke-width="0.25">1</text>
<text transform="translate(478.06 291.00) scale(1.050 1)" font-size="12.50" fill="#303030" stroke="#303030" stroke-width="0.25">=</text>
<text transform="translate(486.24 291.00) scale(1.050 1)" font-size="12.50" fill="#303030" stroke="#303030" stroke-width="0.25">2</text>
<text transform="translate(492.95 291.00) scale(1.050 1)" font-size="12.50" fill="#303030" stroke="#303030" stroke-width="0.25">.</text>
<text transform="translate(496.24 291.00) scale(1.050 1)" font-size="12.50" fill="#303030" stroke="#303030" stroke-width="0.25">5</text>
<text transform="translate(505.80 292.90) scale(1.050 1)" font-size="12.00" fill="#303030" stroke="#303030" stroke-width="0.25">*</text>
<text transform="translate(511.86 291.00) scale(1.050 1)" font-size="12.50" fill="#303030" stroke="#303030" stroke-width="0.25">1</text>
<text transform="translate(517.70 291.00) scale(1.050 1)" font-size="12.50" fill="#303030" stroke="#303030" stroke-width="0.25">0</text>
<text transform="translate(526.75 285.80) scale(1.050 1)" font-size="8.80" fill="#303030" stroke="#303030" stroke-width="0.25">−</text>
<text transform="translate(532.40 285.80) scale(1.050 1)" font-size="8.80" fill="#303030" stroke="#303030" stroke-width="0.25">2</text>
<g clip-path="url(#cr)" fill="none" stroke-width="3.2" stroke-linecap="butt" stroke-linejoin="round">
<g transform="translate(0.55 -0.5)">
<path d="M455.7 25.2L457.8 27.7L460.5 30.8L462.6 33.3L465.0 36.1L467.5 38.9L469.5 41.2L471.8 43.8L473.9 46.2L476.3 48.9L478.7 51.6L481.1 54.2L483.5 56.8L485.6 59.1L487.7 61.5L490.1 64.1L492.8 66.9L494.7 69.0L497.1 71.6L499.7 74.4L501.5 76.3L504.1 79.1L506.6 81.7L508.5 83.7L511.0 86.3L513.5 88.9L515.4 90.9L517.9 93.5" stroke="#ffb400"/>
<path d="M573.0 147.9L576.3 151.0L579.6 154.1L582.8 157.1L586.0 160.0" stroke="#ffb400"/>
</g>
<path d="M455.7 25.2L458.0 28.0L460.2 30.6L462.8 33.5L465.0 36.1L467.4 38.9L469.7 41.5L472.4 44.4L474.7 47.0L476.8 49.4L479.3 52.1L481.4 54.6L483.9 57.3L486.2 59.8L488.7 62.5L490.9 64.9L493.3 67.5L495.8 70.2L498.0 72.5L500.6 75.3L502.6 77.4L505.2 80.2L507.4 82.5L509.8 85.0L512.2 87.6L514.5 89.9L516.8 92.3L519.2 94.8" stroke="#ff1400"/>
<path d="M571.7 146.7L573.7 148.6L576.0 150.8L578.7 153.2L580.9 155.2L583.2 157.5L585.7 159.7L587.8 161.6L589.7 163.3L592.2 165.5L594.6 167.8L596.7 169.6L599.4 172.0L601.7 174.0L603.9 175.9L606.0 177.7L608.5 179.9L610.4 181.4L612.7 183.5L615.1 185.4L617.6 187.5L619.7 189.2L621.8 190.9L624.2 192.8L626.5 194.6L628.7 196.4L630.9 198.1L633.4 200.0L635.7 201.8L638.1 203.6L640.4 205.3L642.6 206.8L644.8 208.4L647.3 210.2L649.6 211.9L651.8 213.3L654.2 214.9L656.5 216.4L658.3 217.4L661.1 219.3L663.0 220.4L665.4 221.8L667.9 223.3L670.0 224.5" stroke="#ff1400"/>
<path d="M518.9 94.5L521.3 97.0L523.3 99.0L525.9 101.7L527.9 103.7L530.4 106.2L532.9 108.8L535.0 110.9L537.4 113.3L539.8 115.7L542.2 118.0L544.4 120.3L546.3 122.2L548.9 124.7L551.2 127.0L553.3 129.0L555.9 131.5L558.2 133.8L560.6 136.1L563.0 138.4L564.9 140.2L567.2 142.4L569.8 144.9L572.0 147.0" stroke="#0808f0"/>
<path d="M418.2 25.4L420.3 27.9L422.7 30.7L425.2 33.6L427.3 36.2L429.9 39.3L432.3 42.1L434.1 44.4L436.7 47.5L439.2 50.4L441.6 53.3L443.5 55.7L445.7 58.5L448.4 61.7L450.8 64.5L452.7 66.9L455.1 69.8L457.6 72.7L460.0 75.6L461.9 78.0L464.5 81.0L466.9 83.9L469.0 86.5L471.1 89.0L473.4 91.7L475.8 94.5L478.4 97.5L480.3 99.8L482.6 102.5L485.1 105.4L487.2 107.9L489.6 110.6L492.1 113.4" stroke="#10f010"/>
<path d="M539.6 163.9L541.6 165.8L544.1 168.3L546.5 170.5L548.6 172.5L550.6 174.5L553.0 176.7L555.4 178.9L557.8 181.2L560.1 183.2L562.0 184.9L564.1 186.7L566.8 189.2L569.1 191.2L571.1 192.9L573.5 195.0L575.8 197.0L577.9 198.8L580.3 200.8L582.1 202.2L584.5 204.2L586.7 206.1L588.9 207.8L591.6 210.1L593.3 211.4L595.9 213.6L597.9 215.0L600.3 217.0L602.6 218.8L604.7 220.4L607.1 222.3L609.4 224.1L611.5 225.7L614.0 227.6L615.9 229.0L618.2 230.7L620.5 232.5L622.8 234.2L624.9 235.8L627.6 237.9L629.8 239.6L631.6 240.8L634.0 242.7L636.2 244.3L638.6 246.1L640.7 247.7L643.1 249.5L645.6 251.4L647.5 252.8L649.9 254.7L652.2 256.3L654.5 258.1L656.4 259.5L659.0 261.6L661.3 263.4L663.4 265.0L665.5 266.6L667.9 268.6L670.1 270.3" stroke="#10f010"/>
<path d="M491.8 113.1L494.3 115.9L496.7 118.6L498.8 121.0L501.7 124.2L504.1 126.8L506.2 129.2L508.7 131.9L510.8 134.2L513.7 137.3L516.0 139.8L518.3 142.2L520.8 144.8L522.9 147.0L525.4 149.6L527.7 152.0L530.3 154.7L532.5 156.8L535.3 159.7L537.5 161.8L539.9 164.2" stroke="#0808f0"/>
<path d="M396.6 31.3L398.9 34.4L401.1 37.3L403.7 40.7L406.1 43.8L408.4 46.8L410.5 49.7L413.1 53.0L415.1 55.7L417.8 59.2L420.0 62.1L422.2 64.9L424.7 68.1L427.1 71.1L429.2 73.9L431.9 77.3L434.0 80.0L436.6 83.3L438.9 86.2L440.8 88.7L443.5 92.0L445.6 94.7L448.2 97.9L450.4 100.6L452.7 103.5L455.3 106.6L457.2 109.0L459.8 112.1L462.0 114.8L464.2 117.5L466.9 120.7L469.1 123.3" stroke="#06a806"/>
<path d="M516.6 176.2L518.9 178.5L521.4 181.1L523.5 183.2L525.6 185.4L528.2 188.0L530.0 189.8L532.2 192.0L534.9 194.6L536.9 196.6L539.2 198.8L541.7 201.3L543.7 203.1L546.3 205.6L548.4 207.6L550.5 209.6L552.6 211.5L555.0 213.7L557.7 216.2L559.6 218.0L561.7 219.9L564.1 222.0L566.7 224.4L568.5 226.0L571.1 228.4L573.0 230.0L575.8 232.5L577.8 234.2L579.8 235.9L582.6 238.4L584.5 240.0L587.0 242.1L589.1 244.0L591.2 245.6L593.4 247.6L595.7 249.5L598.0 251.4L600.2 253.2L602.5 255.1L605.2 257.5L607.0 258.9L609.5 261.0L611.6 262.7L613.9 264.6L616.5 266.8L618.8 268.7L620.8 270.3L622.8 271.9L625.7 274.4L627.4 275.7L629.8 277.7L632.2 279.7L634.7 281.8L636.9 283.6L639.0 285.3L641.2 287.1L643.7 289.2L646.0 291.1L648.2 293.0L650.3 294.7" stroke="#06a806"/>
<path d="M468.8 122.9L471.3 125.9L473.4 128.4L475.9 131.3L478.4 134.2L480.8 137.0L483.4 139.9L485.5 142.4L488.1 145.3L490.4 147.9L493.0 150.8L495.1 153.1L497.6 155.9L499.8 158.3L502.3 161.0L505.1 164.0L507.2 166.3L509.9 169.1L512.1 171.5L514.2 173.7L516.9 176.5" stroke="#0808f0"/>
<path d="M396.3 76.2L398.8 79.3L400.8 81.9L403.6 85.3L405.5 87.8L408.3 91.2L410.4 93.9L412.9 97.0L415.6 100.4L417.7 103.1L420.2 106.2L422.6 109.3L424.7 112.0L427.4 115.4L429.9 118.4L431.8 121.0L434.4 124.2L436.7 127.0L439.3 130.2L441.3 132.8L443.9 136.0L446.3 139.0" stroke="#08a8a0"/>
<path d="M488.7 189.1L491.2 191.9L493.4 194.4L495.3 196.6L498.0 199.5L500.0 201.7L502.6 204.5L504.7 206.7L506.8 209.0L509.4 211.8L511.8 214.2L514.0 216.6L516.4 219.1L518.3 221.1L520.6 223.5L522.8 225.7L525.3 228.3L527.6 230.5L529.8 232.8L532.2 235.2L534.4 237.4L536.5 239.5L539.0 242.0L541.2 244.2L543.6 246.5L546.2 249.0L548.0 250.8L550.6 253.3L552.9 255.5L555.0 257.5L557.4 259.8L559.9 262.3L561.9 264.1L564.4 266.5L566.7 268.8L568.7 270.7L571.4 273.2L573.5 275.2L575.7 277.3L578.1 279.6L580.2 281.7L582.7 284.0L584.7 286.0L587.4 288.5L589.4 290.5L591.6 292.6L594.0 295.0" stroke="#08a8a0"/>
<path d="M446.0 138.6L448.4 141.5L451.0 144.7L453.3 147.6L455.5 150.3L457.9 153.1L460.3 156.0L463.0 159.2L464.9 161.6L467.7 164.9L470.1 167.7L472.1 170.1L474.6 173.0L477.1 175.9L479.6 178.8L482.1 181.6L484.5 184.4L486.5 186.7L489.0 189.5" stroke="#0808f0"/>
<path d="M396.3 140.5L398.9 144.2L401.9 148.1L404.7 151.9L407.5 155.6" stroke="#ff00ff"/>
<path d="M444.9 203.9L447.3 206.8L449.3 209.4L451.9 212.6L454.4 215.5L456.7 218.4L459.0 221.2L461.3 224.0L463.7 226.8L465.5 229.1L468.3 232.3L470.2 234.7L472.5 237.5L474.9 240.3L477.5 243.3L479.6 245.8L481.8 248.4L484.1 251.1L486.7 254.0L489.0 256.7L490.9 258.9L493.3 261.6L495.7 264.3L497.9 266.9L500.4 269.7L502.5 272.1L505.0 274.8L507.6 277.6L509.8 280.1L511.7 282.2L514.1 284.8L516.5 287.5L519.0 290.1L521.1 292.5L523.5 295.0" stroke="#ff00ff"/>
<path d="M407.2 155.2L409.4 158.2L411.9 161.4L414.2 164.5L416.9 168.0L419.2 171.0L421.4 173.9L423.9 177.2L426.2 180.2L428.6 183.2L430.9 186.2L433.3 189.3L436.0 192.6L438.2 195.5L440.6 198.5L442.6 201.1L445.2 204.2" stroke="#0808f0"/>
</g>
<circle cx="547.30" cy="123.13" r="2.5" fill="#ff1a1a"/>
<circle cx="516.90" cy="140.73" r="2.5" fill="#ff1a1a"/>
<circle cx="495.40" cy="153.44" r="2.5" fill="#ff1a1a"/>
<circle cx="467.40" cy="164.54" r="2.5" fill="#ff1a1a"/>
<circle cx="426.20" cy="180.15" r="2.5" fill="#ff1a1a"/>
<g stroke="#222" stroke-width="1.3" fill="none">
<rect x="396.30" y="27.60" width="274.20" height="273.00"/>
<path d="M401.40 300.60v-2.90M401.40 27.60v2.90M411.97 300.60v-2.90M411.97 27.60v2.90M422.54 300.60v-2.90M422.54 27.60v2.90M433.10 300.60v-2.90M433.10 27.60v2.90M443.67 300.60v-2.90M443.67 27.60v2.90M454.24 300.60v-5.20M454.24 27.60v5.20M464.81 300.60v-2.90M464.81 27.60v2.90M475.38 300.60v-2.90M475.38 27.60v2.90M485.94 300.60v-2.90M485.94 27.60v2.90M496.51 300.60v-2.90M496.51 27.60v2.90M507.08 300.60v-5.20M507.08 27.60v5.20M517.65 300.60v-2.90M517.65 27.60v2.90M528.22 300.60v-2.90M528.22 27.60v2.90M538.78 300.60v-2.90M538.78 27.60v2.90M549.35 300.60v-2.90M549.35 27.60v2.90M559.92 300.60v-5.20M559.92 27.60v5.20M570.49 300.60v-2.90M570.49 27.60v2.90M581.06 300.60v-2.90M581.06 27.60v2.90M591.62 300.60v-2.90M591.62 27.60v2.90M602.19 300.60v-2.90M602.19 27.60v2.90M612.76 300.60v-5.20M612.76 27.60v5.20M623.33 300.60v-2.90M623.33 27.60v2.90M633.90 300.60v-2.90M633.90 27.60v2.90M644.46 300.60v-2.90M644.46 27.60v2.90M655.03 300.60v-2.90M655.03 27.60v2.90M665.60 300.60v-2.90M665.60 27.60v2.90M396.30 295.00h3.60M670.50 295.00h-3.60M396.30 286.28h1.90M670.50 286.28h-1.90M396.30 277.56h1.90M670.50 277.56h-1.90M396.30 268.85h1.90M670.50 268.85h-1.90M396.30 260.13h3.60M670.50 260.13h-3.60M396.30 251.41h1.90M670.50 251.41h-1.90M396.30 242.69h1.90M670.50 242.69h-1.90M396.30 233.98h1.90M670.50 233.98h-1.90M396.30 225.26h3.60M670.50 225.26h-3.60M396.30 216.54h1.90M670.50 216.54h-1.90M396.30 207.82h1.90M670.50 207.82h-1.90M396.30 199.10h1.90M670.50 199.10h-1.90M396.30 190.39h3.60M670.50 190.39h-3.60M396.30 181.67h1.90M670.50 181.67h-1.90M396.30 172.95h1.90M670.50 172.95h-1.90M396.30 164.23h1.90M670.50 164.23h-1.90M396.30 155.51h3.60M670.50 155.51h-3.60M396.30 146.80h1.90M670.50 146.80h-1.90M396.30 138.08h1.90M670.50 138.08h-1.90M396.30 129.36h1.90M670.50 129.36h-1.90M396.30 120.64h3.60M670.50 120.64h-3.60M396.30 111.93h1.90M670.50 111.93h-1.90M396.30 103.21h1.90M670.50 103.21h-1.90M396.30 94.49h1.90M670.50 94.49h-1.90M396.30 85.77h3.60M670.50 85.77h-3.60M396.30 77.05h1.90M670.50 77.05h-1.90M396.30 68.34h1.90M670.50 68.34h-1.90M396.30 59.62h1.90M670.50 59.62h-1.90M396.30 50.90h3.60M670.50 50.90h-3.60M396.30 42.18h1.90M670.50 42.18h-1.90M396.30 33.46h1.90M670.50 33.46h-1.90"/>
</g>
<g font-size="17.3" fill="#1e1e1e" stroke="#1e1e1e" stroke-width="0.35">
<text x="402.60" y="317.6" text-anchor="middle">0.955</text>
<text x="454.24" y="317.6" text-anchor="middle">0.960</text>
<text x="507.08" y="317.6" text-anchor="middle">0.965</text>
<text x="559.92" y="317.6" text-anchor="middle">0.970</text>
<text x="612.76" y="317.6" text-anchor="middle">0.975</text>
<text x="663.90" y="317.6" text-anchor="middle">0.980</text>
<text x="391.3" y="300.70" text-anchor="end">0.000</text>
<text x="391.3" y="265.83" text-anchor="end">0.002</text>
<text x="391.3" y="230.96" text-anchor="end">0.004</text>
<text x="391.3" y="196.09" text-anchor="end">0.006</text>
<text x="391.3" y="161.21" text-anchor="end">0.008</text>
<text x="391.3" y="126.34" text-anchor="end">0.010</text>
<text x="391.3" y="91.47" text-anchor="end">0.012</text>
<text x="391.3" y="56.60" text-anchor="end">0.014</text>
</g>
<text x="340.02" y="170.10" font-size="19.00" fill="#222" stroke="#222" stroke-width="0.20">r</text>
<text x="525.07" y="340.60" font-size="18.00" fill="#222" font-style="italic">n</text>
<text x="535.24" y="344.40" font-size="13.00" fill="#222" font-style="italic">s</text>
<text transform="translate(487.35 18.80) scale(1.040 1)" font-size="16.80" fill="#1e1e1e" stroke="#1e1e1e" stroke-width="0.30">λ</text>
<text transform="translate(495.93 21.90) scale(1.040 1)" font-size="11.80" fill="#1e1e1e" stroke="#1e1e1e" stroke-width="0.30">1</text>
<text transform="translate(503.25 20.40) scale(1.040 1)" font-size="13.00" fill="#1e1e1e" stroke="#1e1e1e" stroke-width="0.30">*</text>
<text transform="translate(512.21 18.80) scale(1.040 1)" font-size="16.80" fill="#1e1e1e" font-style="italic" stroke="#1e1e1e" stroke-width="0.30">ξ</text>
<text transform="translate(520.73 21.90) scale(1.040 1)" font-size="11.80" fill="#1e1e1e" stroke="#1e1e1e" stroke-width="0.30">0</text>
<text transform="translate(528.94 18.80) scale(1.040 1)" font-size="16.80" fill="#1e1e1e" stroke="#1e1e1e" stroke-width="0.30">=</text>
<text transform="translate(539.78 18.80) scale(1.040 1)" font-size="16.80" fill="#1e1e1e" stroke="#1e1e1e" stroke-width="0.30">1</text>
<text transform="translate(546.64 18.80) scale(1.040 1)" font-size="16.80" fill="#1e1e1e" stroke="#1e1e1e" stroke-width="0.30">0</text>
<text transform="translate(558.20 10.60) scale(1.040 1)" font-size="11.80" fill="#1e1e1e" stroke="#1e1e1e" stroke-width="0.30">−</text>
<text transform="translate(565.63 10.60) scale(1.040 1)" font-size="11.80" fill="#1e1e1e" stroke="#1e1e1e" stroke-width="0.30">1</text>
<text transform="translate(571.53 10.60) scale(1.040 1)" font-size="11.80" fill="#1e1e1e" stroke="#1e1e1e" stroke-width="0.30">0</text>
</svg>
</body></html>
